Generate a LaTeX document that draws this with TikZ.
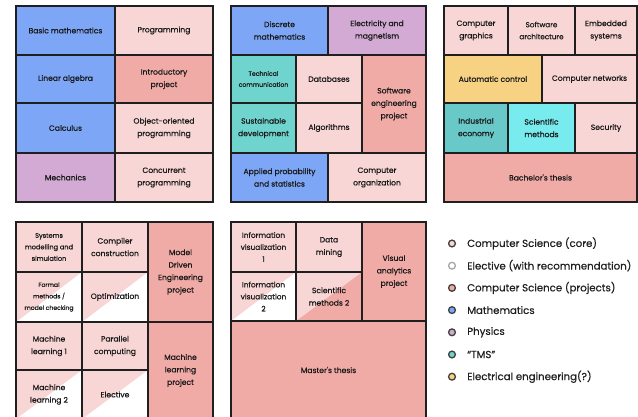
\documentclass[tikz,border=0pt]{standalone}
\usepackage{fontspec}
\setmainfont{Poppins}
\newfontfamily\cellfont{Poppins}[FakeBold=0.5]
\usepackage{tikz}
\usetikzlibrary{positioning}

\definecolor{mathblue}{HTML}{7DA7F6}
\definecolor{corepink}{HTML}{F8D6D5}
\definecolor{projpink}{HTML}{F1ABA7}
\definecolor{physpurple}{HTML}{D2AAD3}
\definecolor{tmsteal}{HTML}{6FD4CE}
\definecolor{ecoteal}{HTML}{69C9C9}
\definecolor{scicyan}{HTML}{78EBEF}
\definecolor{eeyellow}{HTML}{F8D283}

\tikzset{
  cell/.style={draw=black!88, line width=1.1pt, inner sep=1pt, align=center,
    text=black!90, font=\cellfont\fontsize{7.6}{12.5}\selectfont},
  halves/.style 2 args={fill=#2, path picture={
    \fill[#1] (path picture bounding box.north west) -- (path picture bounding box.north east)
      -- (path picture bounding box.south west) -- cycle;}},
  dot/.style={circle, line width=1.3pt, minimum size=6.8pt, inner sep=0pt},
  legtext/.style={font=\cellfont\fontsize{10.2}{12}\selectfont, text=black!88, inner sep=0pt}
}

\begin{document}
\begin{tikzpicture}[x=1pt,y=-1pt]
\clip (0,0) rectangle (638,417);

% year 1
\node[cell, fill=mathblue, minimum width=99pt, minimum height=49pt] (basicmath) at (65.5,30.5) {Basic mathematics};
\node[cell, fill=corepink, minimum width=98pt, minimum height=49pt] (prog) at (164,30.5) {Programming};
\node[cell, fill=mathblue, minimum width=99pt, minimum height=48pt] (linalg) at (65.5,79) {Linear algebra};
\node[cell, fill=projpink, minimum width=98pt, minimum height=48pt] (introproj) at (164,79) {Introductory\\project};
\node[cell, fill=mathblue, minimum width=99pt, minimum height=50pt] (calc) at (65.5,128) {Calculus};
\node[cell, fill=corepink, minimum width=98pt, minimum height=50pt] (oop) at (164,128) {Object-oriented\\programming};
\node[cell, fill=physpurple, minimum width=99pt, minimum height=49pt] (mech) at (65.5,177.5) {Mechanics};
\node[cell, fill=corepink, minimum width=98pt, minimum height=49pt] (concprog) at (164,177.5) {Concurrent\\programming};

% year 2
\node[cell, fill=mathblue, minimum width=97pt, minimum height=49pt] (discmath) at (279.5,30.5) {Discrete\\mathematics};
\node[cell, fill=physpurple, minimum width=98pt, minimum height=49pt] (elmag) at (377,30.5) {Electricity and\\magnetism};
\node[cell, fill=tmsteal, minimum width=65pt, minimum height=48pt, font=\cellfont\fontsize{6.2}{11}\selectfont] (techcomm) at (263.5,79) {Technical\\communication};
\node[cell, fill=corepink, minimum width=66pt, minimum height=48pt] (databases) at (329,79) {Databases};
\node[cell, fill=projpink, minimum width=64pt, minimum height=98pt] (seproj) at (394,104) {Software\\engineering\\project};
\node[cell, fill=tmsteal, minimum width=65pt, minimum height=50pt] (sustdev) at (263.5,128) {Sustainable\\development};
\node[cell, fill=corepink, minimum width=66pt, minimum height=50pt] (algo) at (329,128) {Algorithms};
\node[cell, fill=mathblue, minimum width=97pt, minimum height=49pt] (probstat) at (279.5,177.5) {Applied probability\\and statistics};
\node[cell, fill=corepink, minimum width=98pt, minimum height=49pt] (comporg) at (377,177.5) {Computer\\organization};

% year 3
\node[cell, fill=corepink, minimum width=64pt, minimum height=49pt] (graphics) at (476,30.5) {Computer\\graphics};
\node[cell, fill=corepink, minimum width=67pt, minimum height=49pt, font=\cellfont\fontsize{7.2}{12}\selectfont] (swarch) at (541.5,30.5) {Software\\architecture};
\node[cell, fill=corepink, minimum width=62pt, minimum height=49pt] (embsys) at (606,30.5) {Embedded\\systems};
\node[cell, fill=eeyellow, minimum width=98pt, minimum height=48pt] (autocontrol) at (493,79) {Automatic control};
\node[cell, fill=corepink, minimum width=95pt, minimum height=48pt] (networks) at (589.5,79) {Computer networks};
\node[cell, fill=ecoteal, minimum width=64pt, minimum height=50pt] (indecon) at (476,128) {Industrial\\economy};
\node[cell, fill=scicyan, minimum width=67pt, minimum height=50pt] (scimeth) at (541.5,128) {Scientific\\methods};
\node[cell, fill=corepink, minimum width=62pt, minimum height=50pt] (security) at (606,128) {Security};
\node[cell, fill=projpink, minimum width=193pt, minimum height=49pt] (bachelor) at (540.5,177.5) {Bachelor's thesis};

% year 4
\node[cell, fill=corepink, minimum width=66pt, minimum height=50pt, font=\cellfont\fontsize{6.6}{11.5}\selectfont] (sysmod) at (49,247) {Systems\\modelling and\\simulation};
\node[cell, fill=corepink, minimum width=66pt, minimum height=50pt] (compiler) at (115,247) {Compiler\\construction};
\node[cell, fill=projpink, minimum width=65pt, minimum height=100pt] (mdeproj) at (180.5,272) {Model\\Driven\\Engineering\\project};
\node[cell, halves={corepink}{white}, minimum width=66pt, minimum height=50pt, font=\cellfont\fontsize{6.1}{11.5}\selectfont] (formal) at (49,297) {Formal\\methods /\\model checking};
\node[cell, halves={corepink}{white}, minimum width=66pt, minimum height=50pt] (optim) at (115,297) {Optimization};
\node[cell, fill=corepink, minimum width=66pt, minimum height=48pt] (ml1) at (49,346) {Machine\\learning 1};
\node[cell, fill=corepink, minimum width=66pt, minimum height=48pt] (parcomp) at (115,346) {Parallel\\computing};
\node[cell, fill=projpink, minimum width=65pt, minimum height=97pt] (mlproj) at (180.5,370.5) {Machine\\learning\\project};
\node[cell, halves={corepink}{white}, minimum width=66pt, minimum height=49pt] (ml2) at (49,394.5) {Machine\\learning 2};
\node[cell, halves={corepink}{white}, minimum width=66pt, minimum height=49pt] (elective) at (115,394.5) {Elective};

% year 5
\node[cell, fill=corepink, minimum width=65pt, minimum height=50pt, font=\cellfont\fontsize{7.4}{12}\selectfont] (infovis1) at (263.5,247) {Information\\visualization\\1};
\node[cell, fill=corepink, minimum width=66pt, minimum height=50pt] (datamining) at (329,247) {Data\\mining};
\node[cell, fill=projpink, minimum width=64pt, minimum height=99pt] (vaproj) at (394,271.5) {Visual\\analytics\\project};
\node[cell, halves={corepink}{white}, minimum width=65pt, minimum height=49pt, font=\cellfont\fontsize{7.4}{12}\selectfont] (infovis2) at (263.5,296.5) {Information\\visualization\\2};
\node[cell, halves={corepink}{projpink}, minimum width=66pt, minimum height=49pt] (scimeth2) at (329,296.5) {Scientific\\methods 2};
\node[cell, fill=projpink, minimum width=195pt, minimum height=98pt] (master) at (328.5,370) {Master's thesis};

% legend
\foreach \c/\d/\t [count=\i] in {corepink/black!75/{Computer Science (core)},
    white/black!35/{Elective (with recommendation)},
    projpink/black!75/{Computer Science (projects)},
    mathblue/black!75/{Mathematics},
    physpurple/black!75/{Physics},
    tmsteal/black!75/{“TMS”},
    eeyellow/black!75/{Electrical engineering(?)}} {
  \node[dot, fill=\c, draw=\d] (dot\i) at (452,{243.5+22.2*(\i-1)}) {};
  \node[legtext, right=11pt of dot\i] (leg\i) {\t};
}
\end{tikzpicture}
\end{document}
